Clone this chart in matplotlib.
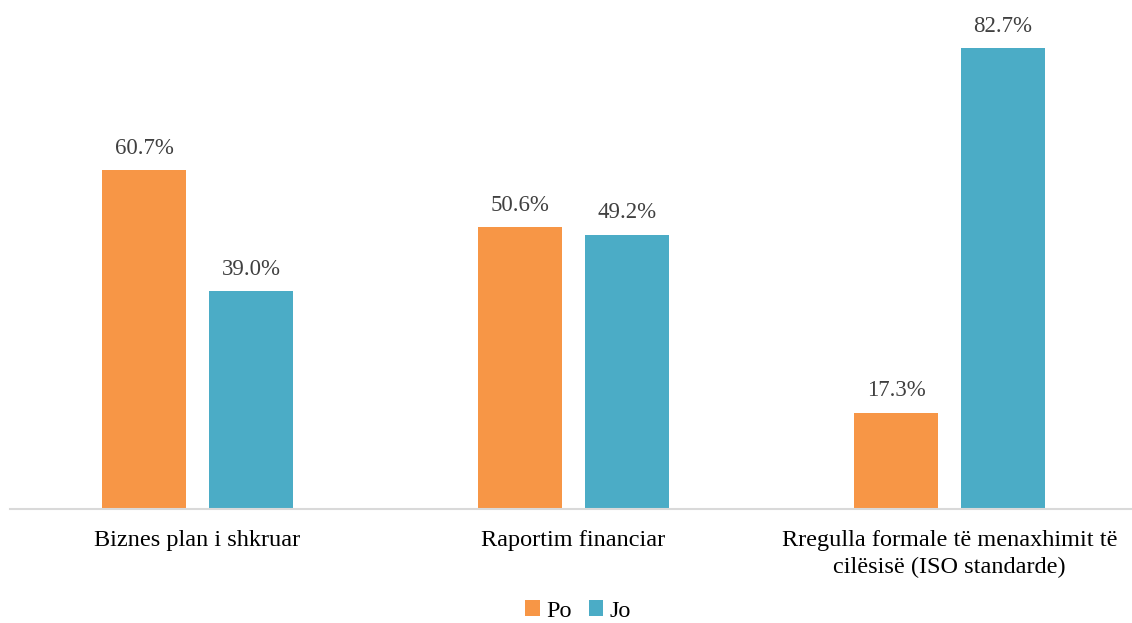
import matplotlib.pyplot as plt
import numpy as np

categories = ["Biznes plan i shkruar", "Raportim financiar",
              "Rregulla formale të menaxhimit të\ncilësisë (ISO standarde)"]
po = [60.7, 50.6, 17.3]
jo = [39.0, 49.2, 82.7]
series_names = ["Po", "Jo"]

plt.rcParams['font.family'] = ['Liberation Serif', 'DejaVu Serif']

fig = plt.figure(figsize=(11.32, 6.23), dpi=100)
# axes run a little past the right edge, like the original
ax = fig.add_axes([9.5/1132, 114/623, 1128/1132, (509 - 7)/623])

x = np.arange(len(categories))
w = 0.223
off = (w + 0.061) / 2
b1 = ax.bar(x - off, po, w, color="#F79646", label=series_names[0])
b2 = ax.bar(x + off, jo, w, color="#4BACC6", label=series_names[1])

for bars in (b1, b2):
    for r in bars:
        ax.annotate(f"{r.get_height():.1f}%", (r.get_x() + r.get_width()/2, r.get_height()),
                    xytext=(0, 8), textcoords="offset points", ha="center", va="bottom",
                    fontsize=16.5, color="#404040")

ax.set_xlim(-0.5, len(categories) - 0.5)
ax.set_ylim(0, 90)
ax.set_yticks([])
ax.set_xticks(x)
ax.set_xticklabels(categories, fontsize=17.5, color="black", linespacing=1.4)
ax.tick_params(axis="x", length=0, pad=15)
for s in ["top", "right", "left"]:
    ax.spines[s].set_visible(False)
ax.spines["bottom"].set_color("#D9D9D9")
ax.spines["bottom"].set_linewidth(1.5)

fig.legend(loc="center", bbox_to_anchor=(578/1132, 1 - 611/623), ncol=2, frameon=False,
           fontsize=17.5, handlelength=0.6, handleheight=0.6, handletextpad=0.25,
           columnspacing=0.7, borderpad=0)

fig.savefig("out.png", dpi=100)
